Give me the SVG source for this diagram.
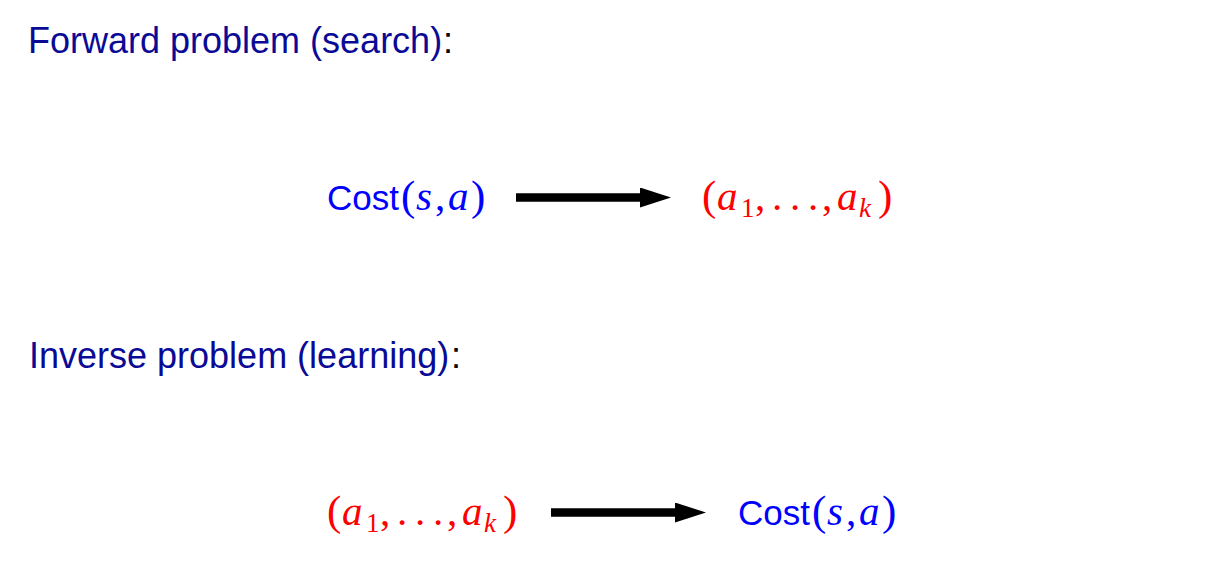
<svg xmlns="http://www.w3.org/2000/svg" width="1218" height="562" viewBox="0 0 1218 562">
<style>
.title{font-family:"Liberation Sans",Arial,sans-serif;font-size:36px;fill:#0a0a96}
.colon{font-family:"Liberation Sans",Arial,sans-serif;font-size:36px;fill:#000}
.sans{font-family:"Liberation Sans",Arial,sans-serif;font-size:35px}
.m{font-family:"Liberation Serif","Times New Roman",serif;font-size:41px}
.p{font-size:43px}
.it{font-style:italic}
.sub{font-size:27px}
.blue{fill:#0000ff}
.red{fill:#ff0000}
.arrow{stroke:#000;stroke-width:8.5;fill:none}
</style>
<defs>
<marker id="ah" markerUnits="userSpaceOnUse" viewBox="0 0 31 20" markerWidth="31" markerHeight="20" refX="0" refY="10" orient="auto">
<path d="M0,0 L31,10 L0,20 Z" fill="#000"/>
</marker>
</defs>
<rect width="1218" height="562" fill="#fff"/>
<g id="title-forward">
<text class="title" x="28" y="53">Forward problem (search)</text>
<text class="colon" x="443" y="53">:</text>
</g>
<g id="title-inverse">
<text class="title" x="29" y="368">Inverse problem (learning)</text>
<text class="colon" x="451" y="368">:</text>
</g>
<g id="forward-cost">
<text class="sans blue" x="327" y="210">Cost</text>
<text class="m blue" y="210"><tspan class="p" x="401">(</tspan><tspan class="it" x="416">s</tspan><tspan x="435">,</tspan><tspan class="it" x="448">a</tspan><tspan class="p" x="471">)</tspan></text>
</g>
<g id="forward-actions">
<text class="m red" y="210"><tspan class="p" x="702">(</tspan><tspan class="it" x="717">a</tspan><tspan class="sub" x="741" y="217">1</tspan><tspan x="755" y="210">,</tspan><tspan x="772">.</tspan><tspan x="790">.</tspan><tspan x="808">.</tspan><tspan x="822">,</tspan><tspan class="it" x="837">a</tspan><tspan class="sub it" x="859" y="217">k</tspan><tspan class="p" x="878" y="210">)</tspan></text>
</g>
<g id="inverse-actions">
<text class="m red" y="525"><tspan class="p" x="327">(</tspan><tspan class="it" x="342">a</tspan><tspan class="sub" x="366" y="532">1</tspan><tspan x="380" y="525">,</tspan><tspan x="397">.</tspan><tspan x="415">.</tspan><tspan x="433">.</tspan><tspan x="447">,</tspan><tspan class="it" x="462">a</tspan><tspan class="sub it" x="484" y="532">k</tspan><tspan class="p" x="503" y="525">)</tspan></text>
</g>
<g id="inverse-cost">
<text class="sans blue" x="738" y="525">Cost</text>
<text class="m blue" y="525"><tspan class="p" x="812">(</tspan><tspan class="it" x="827">s</tspan><tspan x="846">,</tspan><tspan class="it" x="859">a</tspan><tspan class="p" x="882">)</tspan></text>
</g>
<g id="connectors">
<line class="arrow" x1="516" y1="197.5" x2="640" y2="197.5" marker-end="url(#ah)"/>
<line class="arrow" x1="551" y1="512.5" x2="675" y2="512.5" marker-end="url(#ah)"/>
</g>
</svg>
